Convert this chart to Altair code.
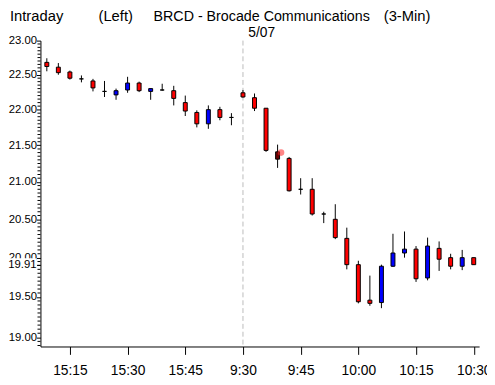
import json
import altair as alt
import pandas as pd

# ---- data (3-minute candles) ----
times = ["15:09", "15:12", "15:15", "15:18", "15:21", "15:24", "15:27", "15:30",
         "15:33", "15:36", "15:39", "15:42", "15:45", "15:48", "15:51", "15:54",
         "15:57", "9:30", "9:33", "9:36", "9:39", "9:42", "9:45", "9:48", "9:51",
         "9:54", "9:57", "10:00", "10:03", "10:06", "10:09", "10:12", "10:15",
         "10:18", "10:21", "10:24", "10:27", "10:30"]
opens = [22.68, 22.61, 22.54, 22.44, 22.41, 22.26, 22.21, 22.28, 22.38, 22.26,
         22.28, 22.27, 22.10, 21.96, 21.80, 22.00, 21.89, 22.24, 22.17, 22.02,
         21.41, 21.32, 20.90, 20.90, 20.57, 20.50, 20.25, 19.91, 19.46, 19.43,
         19.89, 20.06, 20.11, 19.74, 20.12, 20.00, 19.89, 20.00]
highs = [22.74, 22.67, 22.56, 22.49, 22.44, 22.41, 22.30, 22.47, 22.40, 22.30,
         22.37, 22.34, 22.20, 21.99, 22.06, 22.04, 21.95, 22.28, 22.23, 22.02,
         21.51, 21.34, 21.05, 21.05, 20.60, 20.70, 20.39, 19.96, 19.77, 19.91,
         20.31, 20.34, 20.15, 20.26, 20.21, 20.05, 20.10, 20.00]
lows = [22.55, 22.50, 22.43, 22.39, 22.26, 22.18, 22.14, 22.24, 22.25, 22.14,
        22.27, 22.06, 21.91, 21.75, 21.73, 21.85, 21.78, 22.17, 21.98, 21.41,
        21.19, 20.87, 20.83, 20.55, 20.45, 20.24, 19.85, 19.42, 19.39, 19.36,
        19.88, 20.00, 19.69, 19.71, 19.83, 19.85, 19.84, 19.91]
closes = [22.62, 22.53, 22.45, 22.44, 22.31, 22.26, 22.27, 22.38, 22.27, 22.30,
          22.28, 22.16, 21.98, 21.80, 22.00, 21.89, 21.89, 22.18, 22.02, 21.43,
          21.31, 20.88, 20.90, 20.57, 20.57, 20.26, 19.91, 19.44, 19.42, 19.89,
          20.06, 20.11, 19.73, 20.15, 19.98, 19.89, 20.00, 19.91]
highlighted_time = "9:39"
marker_price = 21.40
tick_times = ["15:15", "15:30", "15:45", "9:30", "9:45", "10:00", "10:15", "10:30"]
session_start = "9:30"
last_price = 19.91
y_major = [19.0, 19.5, 20.0, 20.5, 21.0, 21.5, 22.0, 22.5, 23.0]
y_minor = [round(18.90 + 0.05 * k, 2) for k in range(82)]
y_minor = [v for v in y_minor if all(abs(v - m) > 1e-6 for m in y_major) and v < 23.0]

title_left = "Intraday"
title_mid = "(Left)"
title_main = "BRCD - Brocade Communications"
title_int = "(3-Min)"
date_label = "5/07"

FONT = "Liberation Sans, Arial, sans-serif"
YFS = 11.5

# ---- table ----
def direction(t, o, c):
    if t == highlighted_time:
        return "hl"
    if c > o:
        return "up"
    if c < o:
        return "down"
    return "flat"

df = pd.DataFrame({
    "i": list(range(len(times))),
    "t": times,
    "open": opens,
    "high": highs,
    "low": lows,
    "close": closes,
})
df["dir"] = [direction(t, o, c) for t, o, c in zip(times, opens, closes)]

n = len(times)
xs = alt.Scale(domain=[-0.125, n - 1 + 0.0417], nice=False, zero=False)
ys = alt.Scale(type="log", domain=[18.888, 23.0], nice=False, zero=False)

tick_idx = [times.index(t) for t in tick_times]
xaxis = alt.Axis(values=tick_idx, labelExpr=json.dumps(times) + "[datum.value]",
                 title=None, grid=False, tickSize=8, labelPadding=9,
                 labelFont=FONT, labelFontSize=14, labelColor="black",
                 tickColor="black", domainColor="black", labelFlush=False,
                 labelOverlap=False, labelAngle=0)
yaxis = alt.Axis(values=y_major + [last_price],
                 labelExpr="datum.value == %s ? '' : format(datum.value, '.2f')" % last_price,
                 title=None, grid=False, tickSize=4, labelPadding=0,
                 labelFont=FONT, labelFontSize=YFS, labelColor="black",
                 tickColor="black", domainColor="black", labelFlush=False,
                 labelOverlap=False)

base = alt.Chart(df)

session = alt.Chart(pd.DataFrame({"i": [times.index(session_start)]})).mark_rule(
    color="#bbbbbb", strokeDash=[5, 3], strokeWidth=1
).encode(x=alt.X("i:Q", scale=xs, axis=xaxis))

wicks = base.mark_rule(color="black", strokeWidth=1, clip=True).encode(
    x=alt.X("i:Q", scale=xs, axis=xaxis),
    y=alt.Y("low:Q", scale=ys, axis=yaxis),
    y2="high:Q",
)

bodies = base.mark_bar(size=4, stroke="black", strokeWidth=1, clip=True).encode(
    x=alt.X("i:Q", scale=xs, axis=xaxis),
    y=alt.Y("open:Q", scale=ys, axis=yaxis),
    y2="close:Q",
    color=alt.Color("dir:N", legend=None,
                    scale=alt.Scale(domain=["up", "down", "flat", "hl"],
                                    range=["#0000ff", "#ff0000", "#000000", "#6a0000"])),
)

marker = alt.Chart(pd.DataFrame({"i": [times.index(highlighted_time) + 0.3],
                                 "p": [marker_price]})).mark_circle(
    color="#ff2020", opacity=0.55, size=45
).encode(x=alt.X("i:Q", scale=xs, axis=xaxis), y=alt.Y("p:Q", scale=ys, axis=yaxis))

minor = alt.Chart(pd.DataFrame({"v": y_minor})).mark_rule(color="black", strokeWidth=1).encode(
    y=alt.Y("v:Q", scale=ys, axis=yaxis), x=alt.value(-3), x2=alt.value(0)
)

lp_df = pd.DataFrame({"p": [last_price], "label": ["%.2f" % last_price]})
lp_bg = alt.Chart(lp_df).mark_rule(color="white", strokeWidth=13).encode(
    y=alt.Y("p:Q", scale=ys, axis=yaxis), x=alt.value(-41), x2=alt.value(-4)
)
lp_text = alt.Chart(lp_df).mark_text(align="right", baseline="middle", font=FONT,
                                     fontSize=YFS, color="black").encode(
    y=alt.Y("p:Q", scale=ys, axis=yaxis), x=alt.value(-4), text="label:N"
)

def label(txt, x, y, size=14.5, align="left"):
    return alt.Chart(pd.DataFrame({"s": [txt]})).mark_text(
        align=align, baseline="alphabetic", font=FONT, fontSize=size, color="black"
    ).encode(x=alt.value(x), y=alt.value(y), text="s:N")

titles = [
    label(title_left, -31, -20, size=15),
    label(title_mid, 59, -20, size=15),
    label(title_main, 115, -20, size=14.5),
    label(title_int, 349, -20, size=15),
    label(date_label, 225, -4, size=14, align="center"),
]

chart = alt.layer(session, wicks, bodies, marker, minor, lp_bg, lp_text, *titles).properties(
    width=446, height=311,
    padding={"left": 33, "top": 30, "right": 8, "bottom": 36},
    autosize=alt.AutoSizeParams(type="none"),
    background="white",
).configure_view(strokeWidth=0)

chart.save("out.html", embed_options={"renderer": "svg", "actions": False})
